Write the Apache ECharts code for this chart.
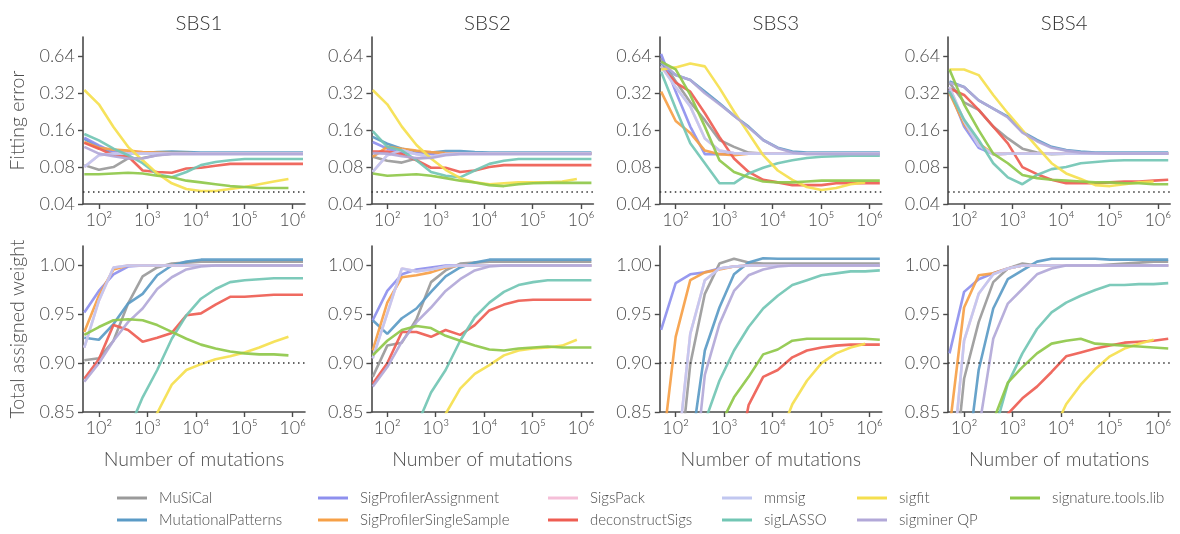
<!DOCTYPE html>
<html>
<head>
<meta charset="utf-8">
<script src="https://cdn.jsdelivr.net/npm/echarts@6/dist/echarts.min.js"></script>
<style>
  html, body { margin: 0; padding: 0; background: #fff; }
  #chart { width: 1180px; height: 534px; }
</style>
</head>
<body>
<div id="chart"></div>
<script>
// number of mutations (x), same grid for every panel
const xs = [50, 100, 200, 400, 800, 1600, 3200, 6400, 12800, 25600, 51200, 102400, 204800, 409600, 819200, 1638400];

const panels = ['SBS1', 'SBS2', 'SBS3', 'SBS4'];
const methods = ['MuSiCal', 'MutationalPatterns', 'SigProfilerAssignment', 'SigProfilerSingleSample',
  'SigsPack', 'deconstructSigs', 'mmsig', 'sigLASSO', 'sigfit', 'sigminer QP', 'signature.tools.lib'];
const colors = ['#9a9a9a', '#5b9bc6', '#8e90ee', '#f6a047', '#f5bfd8', '#ee5d52',
  '#c1c7f0', '#72c6b4', '#f5df4e', '#b2a8d8', '#8fc84a'];

const errTicks = [0.04, 0.08, 0.16, 0.32, 0.64];
const weightTicks = [0.85, 0.90, 0.95, 1.00];
const xTicks = [1e2, 1e3, 1e4, 1e5, 1e6];
const errRef = 0.05;
const weightRef = 0.90;

// fitting error, rows follow `methods`
const errSBS1 = [
  [0.083, 0.076, 0.080, 0.094, 0.095, 0.100, 0.103, 0.103, 0.103, 0.103, 0.103, 0.103, 0.103, 0.103, 0.103, 0.103],
  [0.136, 0.117, 0.104, 0.103, 0.104, 0.106, 0.107, 0.106, 0.105, 0.105, 0.105, 0.105, 0.105, 0.105, 0.105, 0.105],
  [0.139, 0.120, 0.106, 0.104, 0.103, 0.103, 0.103, 0.103, 0.103, 0.103, 0.103, 0.103, 0.103, 0.103, 0.103, 0.103],
  [0.128, 0.115, 0.111, 0.109, 0.106, 0.105, 0.104, 0.104, 0.103, 0.103, 0.103, 0.103, 0.103, 0.103, 0.103, 0.103],
  [0.080, 0.100, 0.103, 0.103, 0.103, 0.103, 0.103, 0.103, 0.103, 0.103, 0.103, 0.103, 0.103, 0.103, 0.103, 0.103],
  [0.126, 0.113, 0.100, 0.098, 0.075, 0.073, 0.072, 0.078, 0.079, 0.082, 0.085, 0.085, 0.085, 0.085, 0.085, 0.085],
  [0.080, 0.100, 0.103, 0.103, 0.103, 0.103, 0.103, 0.103, 0.103, 0.103, 0.103, 0.103, 0.103, 0.103, 0.103, 0.103],
  [0.149, 0.132, 0.113, 0.100, 0.086, 0.070, 0.066, 0.073, 0.083, 0.088, 0.091, 0.093, 0.093, 0.093, 0.093, 0.093],
  [0.340, 0.260, 0.170, 0.117, 0.091, 0.071, 0.059, 0.053, 0.051, 0.051, 0.053, 0.055, 0.058, 0.061, 0.064, null],
  [0.117, 0.103, 0.098, 0.094, 0.094, 0.100, 0.102, 0.102, 0.102, 0.102, 0.102, 0.102, 0.102, 0.102, 0.102, 0.102],
  [0.070, 0.070, 0.071, 0.072, 0.071, 0.068, 0.066, 0.062, 0.060, 0.058, 0.056, 0.055, 0.054, 0.054, 0.054, null]
];
const errSBS2 = [
  [0.097, 0.090, 0.087, 0.094, 0.096, 0.103, 0.103, 0.103, 0.103, 0.103, 0.103, 0.103, 0.103, 0.103, 0.103, 0.103],
  [0.141, 0.124, 0.113, 0.107, 0.105, 0.108, 0.108, 0.106, 0.105, 0.105, 0.105, 0.105, 0.105, 0.105, 0.105, 0.105],
  [0.128, 0.113, 0.105, 0.104, 0.103, 0.103, 0.103, 0.103, 0.103, 0.103, 0.103, 0.103, 0.103, 0.103, 0.103, 0.103],
  [0.097, 0.117, 0.113, 0.109, 0.106, 0.104, 0.103, 0.103, 0.103, 0.103, 0.103, 0.103, 0.103, 0.103, 0.103, 0.103],
  [0.073, 0.100, 0.110, 0.102, 0.097, 0.102, 0.103, 0.103, 0.103, 0.103, 0.103, 0.103, 0.103, 0.103, 0.103, 0.103],
  [0.107, 0.107, 0.102, 0.091, 0.079, 0.079, 0.073, 0.075, 0.080, 0.083, 0.083, 0.083, 0.083, 0.083, 0.083, 0.083],
  [0.073, 0.100, 0.110, 0.102, 0.097, 0.102, 0.103, 0.103, 0.103, 0.103, 0.103, 0.103, 0.103, 0.103, 0.103, 0.103],
  [0.157, 0.117, 0.109, 0.091, 0.073, 0.068, 0.066, 0.075, 0.085, 0.090, 0.093, 0.093, 0.093, 0.093, 0.093, 0.093],
  [0.340, 0.260, 0.171, 0.121, 0.094, 0.076, 0.065, 0.060, 0.058, 0.059, 0.060, 0.060, 0.060, 0.061, 0.064, null],
  [0.104, 0.103, 0.098, 0.095, 0.095, 0.100, 0.102, 0.102, 0.102, 0.102, 0.102, 0.102, 0.102, 0.102, 0.102, 0.102],
  [0.071, 0.068, 0.069, 0.070, 0.068, 0.065, 0.062, 0.060, 0.057, 0.056, 0.058, 0.059, 0.0595, 0.0595, 0.0595, 0.0595]
];
const errSBS3 = [
  [0.620, 0.400, 0.270, 0.193, 0.133, 0.117, 0.105, 0.103, 0.103, 0.103, 0.103, 0.103, 0.103, 0.103, 0.103, 0.103],
  [0.560, 0.450, 0.410, 0.330, 0.265, 0.210, 0.171, 0.133, 0.115, 0.107, 0.105, 0.105, 0.105, 0.105, 0.105, 0.105],
  [0.670, 0.330, 0.171, 0.102, 0.102, 0.103, 0.103, 0.103, 0.103, 0.103, 0.103, 0.103, 0.103, 0.103, 0.103, 0.103],
  [0.330, 0.190, 0.152, 0.109, 0.102, 0.100, 0.103, 0.103, 0.103, 0.103, 0.103, 0.103, 0.103, 0.103, 0.103, 0.103],
  [0.530, 0.360, 0.250, 0.137, 0.109, 0.104, 0.103, 0.103, 0.103, 0.103, 0.103, 0.103, 0.103, 0.103, 0.103, 0.103],
  [0.530, 0.390, 0.330, 0.220, 0.141, 0.094, 0.073, 0.063, 0.060, 0.057, 0.057, 0.057, 0.059, 0.059, 0.059, 0.059],
  [0.530, 0.360, 0.250, 0.137, 0.109, 0.104, 0.103, 0.103, 0.103, 0.103, 0.103, 0.103, 0.103, 0.103, 0.103, 0.103],
  [0.480, 0.240, 0.125, 0.086, 0.059, 0.059, 0.071, 0.079, 0.086, 0.091, 0.095, 0.097, 0.098, 0.099, 0.099, 0.099],
  [0.500, 0.520, 0.560, 0.530, 0.354, 0.227, 0.151, 0.100, 0.075, 0.063, 0.055, 0.052, 0.054, 0.058, 0.060, null],
  [0.580, 0.450, 0.410, 0.320, 0.260, 0.210, 0.168, 0.133, 0.114, 0.105, 0.102, 0.102, 0.102, 0.102, 0.102, 0.102],
  [0.580, 0.500, 0.310, 0.171, 0.091, 0.073, 0.066, 0.061, 0.060, 0.060, 0.061, 0.062, 0.062, 0.062, 0.062, 0.062]
];
const errSBS4 = [
  [0.390, 0.270, 0.234, 0.171, 0.137, 0.113, 0.105, 0.102, 0.103, 0.103, 0.103, 0.103, 0.103, 0.103, 0.103, 0.103],
  [0.400, 0.360, 0.280, 0.240, 0.206, 0.155, 0.133, 0.117, 0.110, 0.107, 0.105, 0.105, 0.105, 0.105, 0.105, 0.105],
  [0.340, 0.171, 0.115, 0.102, 0.103, 0.103, 0.103, 0.103, 0.103, 0.103, 0.103, 0.103, 0.103, 0.103, 0.103, 0.103],
  [0.320, 0.180, 0.125, 0.102, 0.103, 0.103, 0.103, 0.103, 0.103, 0.103, 0.103, 0.103, 0.103, 0.103, 0.103, 0.103],
  [0.360, 0.190, 0.120, 0.102, 0.103, 0.103, 0.103, 0.103, 0.103, 0.103, 0.103, 0.103, 0.103, 0.103, 0.103, 0.103],
  [0.350, 0.310, 0.234, 0.171, 0.125, 0.080, 0.070, 0.063, 0.059, 0.059, 0.059, 0.060, 0.061, 0.061, 0.062, 0.063],
  [0.360, 0.190, 0.120, 0.102, 0.103, 0.103, 0.103, 0.103, 0.103, 0.103, 0.103, 0.103, 0.103, 0.103, 0.103, 0.103],
  [0.330, 0.195, 0.133, 0.086, 0.066, 0.058, 0.069, 0.077, 0.080, 0.086, 0.088, 0.090, 0.091, 0.091, 0.091, 0.091],
  [0.500, 0.500, 0.450, 0.310, 0.220, 0.160, 0.117, 0.086, 0.071, 0.064, 0.057, 0.056, 0.058, 0.060, 0.061, null],
  [0.390, 0.360, 0.280, 0.240, 0.203, 0.153, 0.130, 0.115, 0.109, 0.105, 0.104, 0.103, 0.103, 0.103, 0.103, 0.103],
  [0.500, 0.260, 0.160, 0.103, 0.086, 0.069, 0.065, 0.063, 0.062, 0.061, 0.060, 0.060, 0.059, 0.059, 0.058, 0.058]
];

// total assigned weight, rows follow `methods`
const wSBS1 = [
  [0.903, 0.905, 0.923, 0.961, 0.989, 0.998, 1.002, 1.003, 1.004, 1.004, 1.004, 1.004, 1.004, 1.004, 1.004, 1.004],
  [0.926, 0.924, 0.940, 0.961, 0.971, 0.990, 1.000, 1.004, 1.006, 1.006, 1.006, 1.006, 1.006, 1.006, 1.006, 1.006],
  [0.952, 0.974, 0.991, 0.999, 1.000, 1.000, 1.000, 1.000, 1.000, 1.000, 1.000, 1.000, 1.000, 1.000, 1.000, 1.000],
  [0.932, 0.969, 0.996, 1.000, 1.000, 1.000, 1.000, 1.000, 1.000, 1.000, 1.000, 1.000, 1.000, 1.000, 1.000, 1.000],
  [0.916, 0.964, 0.998, 1.000, 1.000, 1.000, 1.000, 1.000, 1.000, 1.000, 1.000, 1.000, 1.000, 1.000, 1.000, 1.000],
  [0.884, 0.904, 0.939, 0.934, 0.922, 0.926, 0.931, 0.949, 0.951, 0.960, 0.968, 0.968, 0.969, 0.970, 0.970, 0.970],
  [0.916, 0.964, 0.998, 1.000, 1.000, 1.000, 1.000, 1.000, 1.000, 1.000, 1.000, 1.000, 1.000, 1.000, 1.000, 1.000],
  [0.600, 0.700, 0.780, 0.830, 0.865, 0.893, 0.925, 0.949, 0.966, 0.976, 0.983, 0.985, 0.986, 0.987, 0.987, 0.987],
  [0.550, 0.650, 0.720, 0.780, 0.820, 0.849, 0.878, 0.893, 0.899, 0.904, 0.907, 0.911, 0.916, 0.922, 0.927, null],
  [0.881, 0.900, 0.923, 0.942, 0.956, 0.976, 0.988, 0.996, 0.999, 1.000, 1.000, 1.000, 1.000, 1.000, 1.000, 1.000],
  [0.929, 0.937, 0.944, 0.945, 0.944, 0.939, 0.932, 0.925, 0.919, 0.915, 0.912, 0.910, 0.909, 0.909, 0.908, null]
];
const wSBS2 = [
  [0.886, 0.918, 0.921, 0.945, 0.983, 0.995, 1.002, 1.003, 1.004, 1.004, 1.004, 1.004, 1.004, 1.004, 1.004, 1.004],
  [0.944, 0.930, 0.946, 0.956, 0.973, 0.989, 0.998, 1.003, 1.006, 1.006, 1.006, 1.006, 1.006, 1.006, 1.006, 1.006],
  [0.944, 0.974, 0.991, 0.996, 0.998, 1.000, 1.000, 1.000, 1.000, 1.000, 1.000, 1.000, 1.000, 1.000, 1.000, 1.000],
  [0.913, 0.962, 0.988, 0.990, 0.993, 0.998, 1.000, 1.000, 1.000, 1.000, 1.000, 1.000, 1.000, 1.000, 1.000, 1.000],
  [0.905, 0.951, 0.997, 0.994, 0.996, 0.999, 1.000, 1.000, 1.000, 1.000, 1.000, 1.000, 1.000, 1.000, 1.000, 1.000],
  [0.879, 0.900, 0.932, 0.932, 0.927, 0.934, 0.929, 0.939, 0.954, 0.960, 0.964, 0.965, 0.965, 0.965, 0.965, 0.965],
  [0.905, 0.951, 0.997, 0.994, 0.996, 0.999, 1.000, 1.000, 1.000, 1.000, 1.000, 1.000, 1.000, 1.000, 1.000, 1.000],
  [0.620, 0.720, 0.790, 0.835, 0.870, 0.893, 0.923, 0.947, 0.962, 0.973, 0.980, 0.983, 0.985, 0.985, 0.985, 0.985],
  [0.550, 0.650, 0.720, 0.780, 0.820, 0.848, 0.874, 0.889, 0.898, 0.908, 0.913, 0.915, 0.916, 0.918, 0.924, null],
  [0.876, 0.896, 0.922, 0.942, 0.957, 0.974, 0.986, 0.995, 0.999, 1.000, 1.000, 1.000, 1.000, 1.000, 1.000, 1.000],
  [0.908, 0.923, 0.934, 0.938, 0.936, 0.928, 0.923, 0.918, 0.914, 0.913, 0.915, 0.916, 0.917, 0.916, 0.916, 0.916]
];
const wSBS3 = [
  [0.650, 0.755, 0.899, 0.971, 1.002, 1.007, 1.003, 1.002, 1.002, 1.002, 1.002, 1.002, 1.002, 1.002, 1.002, 1.002],
  [0.600, 0.720, 0.807, 0.913, 0.957, 0.991, 1.003, 1.0075, 1.007, 1.007, 1.007, 1.007, 1.007, 1.007, 1.007, 1.007],
  [0.934, 0.982, 0.991, 0.993, 0.997, 0.999, 1.000, 1.000, 1.000, 1.000, 1.000, 1.000, 1.000, 1.000, 1.000, 1.000],
  [0.800, 0.927, 0.985, 0.993, 0.996, 0.999, 1.000, 1.000, 1.000, 1.000, 1.000, 1.000, 1.000, 1.000, 1.000, 1.000],
  [0.700, 0.789, 0.930, 0.985, 0.997, 0.999, 1.000, 1.000, 1.000, 1.000, 1.000, 1.000, 1.000, 1.000, 1.000, 1.000],
  [0.500, 0.600, 0.680, 0.730, 0.760, 0.780, 0.857, 0.886, 0.893, 0.906, 0.913, 0.916, 0.918, 0.919, 0.919, 0.919],
  [0.700, 0.789, 0.930, 0.985, 0.997, 0.999, 1.000, 1.000, 1.000, 1.000, 1.000, 1.000, 1.000, 1.000, 1.000, 1.000],
  [0.550, 0.650, 0.760, 0.840, 0.882, 0.913, 0.937, 0.956, 0.969, 0.980, 0.985, 0.990, 0.992, 0.994, 0.994, 0.995],
  [0.400, 0.500, 0.600, 0.700, 0.750, 0.780, 0.800, 0.810, 0.820, 0.858, 0.882, 0.900, 0.910, 0.916, 0.920, null],
  [0.600, 0.700, 0.747, 0.888, 0.940, 0.974, 0.990, 0.996, 0.999, 1.000, 1.000, 1.000, 1.000, 1.000, 1.000, 1.000],
  [0.500, 0.600, 0.700, 0.780, 0.835, 0.865, 0.886, 0.909, 0.914, 0.923, 0.925, 0.925, 0.925, 0.925, 0.925, 0.924]
];
const wSBS4 = [
  [0.738, 0.884, 0.942, 0.983, 0.997, 1.002, 1.000, 1.000, 1.000, 1.000, 1.000, 1.001, 1.002, 1.003, 1.004, 1.004],
  [0.600, 0.775, 0.893, 0.956, 0.986, 0.995, 1.004, 1.007, 1.007, 1.007, 1.007, 1.006, 1.006, 1.006, 1.006, 1.006],
  [0.910, 0.973, 0.986, 0.992, 0.997, 1.000, 1.000, 1.000, 1.000, 1.000, 1.000, 1.000, 1.000, 1.000, 1.000, 1.000],
  [0.833, 0.957, 0.990, 0.992, 0.997, 1.000, 1.000, 1.000, 1.000, 1.000, 1.000, 1.000, 1.000, 1.000, 1.000, 1.000],
  [0.766, 0.923, 0.971, 0.991, 0.997, 1.000, 1.000, 1.000, 1.000, 1.000, 1.000, 1.000, 1.000, 1.000, 1.000, 1.000],
  [0.500, 0.600, 0.700, 0.780, 0.848, 0.864, 0.876, 0.891, 0.907, 0.911, 0.915, 0.918, 0.921, 0.922, 0.923, 0.925],
  [0.766, 0.923, 0.971, 0.991, 0.997, 1.000, 1.000, 1.000, 1.000, 1.000, 1.000, 1.000, 1.000, 1.000, 1.000, 1.000],
  [0.550, 0.650, 0.750, 0.826, 0.879, 0.910, 0.935, 0.952, 0.962, 0.969, 0.975, 0.980, 0.980, 0.981, 0.981, 0.982],
  [0.400, 0.500, 0.600, 0.700, 0.750, 0.780, 0.800, 0.826, 0.858, 0.878, 0.894, 0.907, 0.915, 0.920, 0.924, null],
  [0.600, 0.700, 0.831, 0.925, 0.961, 0.976, 0.991, 0.997, 1.000, 1.000, 1.000, 1.000, 1.000, 1.000, 1.000, 1.000],
  [0.550, 0.650, 0.750, 0.841, 0.880, 0.896, 0.910, 0.920, 0.923, 0.925, 0.920, 0.919, 0.918, 0.917, 0.916, 0.915]
];

const errAll = [errSBS1, errSBS2, errSBS3, errSBS4];
const wAll = [wSBS1, wSBS2, wSBS3, wSBS4];

// legend columns (indexes into methods) and where each column starts
const legendCols = [[0, 1], [2, 3], [4, 5], [6, 7], [8, 9], [10]];
const legendLeft = [117, 318, 548, 722, 857, 1010];

const FONT = 'Lato';
const TXT = '#4d4d4d';
const AX = '#4a4a4a';
const sup = { 2: '\u00b2', 3: '\u00b3', 4: '\u2074', 5: '\u2075', 6: '\u2076' };
const lg10 = Math.log10, lg2 = Math.log2;

const chart = echarts.init(document.getElementById('chart'));

const grids = [], xAxes = [], yAxes = [], series = [], titles = [];
const labelStyle = { fontSize: 18, color: TXT, fontFamily: FONT, fontWeight: 300 };
const nameStyle = { fontSize: 19.5, color: TXT, fontFamily: FONT, fontWeight: 300 };

function mkX(gi, withName) {
  return {
    gridIndex: gi, type: 'value', min: lg10(47), max: lg10(1.8e6),
    axisLine: { lineStyle: { color: AX, width: 1.6 } },
    axisTick: { customValues: xTicks.map(lg10), length: 5, lineStyle: { color: AX, width: 1.4 } },
    axisLabel: Object.assign({ customValues: xTicks.map(lg10), margin: 7,
      formatter: v => '10' + sup[Math.round(v)] }, labelStyle),
    splitLine: { show: false },
    name: withName ? 'Number of mutations' : '', nameLocation: 'middle', nameGap: 38,
    nameTextStyle: nameStyle
  };
}

panels.forEach((pname, p) => {
  const left = 83 + p * 288.4;
  titles.push({ text: pname, left: left + 111, top: 8, textAlign: 'center',
    textStyle: { fontSize: 20.5, fontWeight: 300, color: '#333', fontFamily: FONT } });

  // top: fitting error (log2 scale)
  const gTop = grids.length;
  grids.push({ left: left, top: 37, width: 222, height: 167 });
  xAxes.push(mkX(gTop, false));
  yAxes.push({
    gridIndex: gTop, type: 'value', min: lg2(0.04), max: lg2(0.92),
    axisLine: { show: true, lineStyle: { color: AX, width: 1.6 } },
    axisTick: { show: true, customValues: errTicks.map(lg2), length: 5, lineStyle: { color: AX, width: 1.4 } },
    axisLabel: Object.assign({ customValues: errTicks.map(lg2), margin: 8,
      formatter: v => Math.pow(2, v).toFixed(2) }, labelStyle),
    splitLine: { show: false },
    name: p === 0 ? 'Fitting error' : '', nameLocation: 'middle', nameGap: 55,
    nameTextStyle: nameStyle
  });

  // bottom: total assigned weight
  const gBot = grids.length;
  grids.push({ left: left, top: 246, width: 222, height: 166 });
  xAxes.push(mkX(gBot, true));
  yAxes.push({
    gridIndex: gBot, type: 'value', min: 0.85, max: 1.02,
    axisLine: { show: true, lineStyle: { color: AX, width: 1.6 } },
    axisTick: { show: true, customValues: weightTicks, length: 5, lineStyle: { color: AX, width: 1.4 } },
    axisLabel: Object.assign({ customValues: weightTicks, margin: 8,
      formatter: v => v.toFixed(2) }, labelStyle),
    splitLine: { show: false },
    name: p === 0 ? 'Total assigned weight' : '', nameLocation: 'middle', nameGap: 55,
    nameTextStyle: nameStyle
  });

  [[gTop, errAll[p], lg2, errRef], [gBot, wAll[p], v => v, weightRef]].forEach(([gi, rows, tf, ref]) => {
    // dotted reference line
    series.push({
      type: 'line', xAxisIndex: gi, yAxisIndex: gi, data: [], silent: true,
      markLine: { silent: true, symbol: 'none', label: { show: false }, animation: false,
        lineStyle: { type: [1.5, 3.5], color: '#333', width: 1.5 },
        data: [{ yAxis: tf(ref) }] }
    });
    rows.forEach((row, m) => {
      const data = [];
      row.forEach((v, k) => { if (v != null) data.push([lg10(xs[k]), tf(v)]); });
      series.push({
        type: 'line', name: methods[m], xAxisIndex: gi, yAxisIndex: gi, data: data,
        showSymbol: false, symbol: 'none', silent: true,
        lineStyle: { color: colors[m], width: 2.6, opacity: 0.92 },
        itemStyle: { color: colors[m] }
      });
    });
  });
});

const legends = legendCols.map((col, i) => ({
  data: col.map(m => methods[m]), orient: 'vertical', left: legendLeft[i], top: 490,
  padding: 0, icon: 'rect', itemWidth: 30, itemHeight: 3, itemGap: 6, selectedMode: false,
  textStyle: { fontSize: 15, color: TXT, fontFamily: FONT, fontWeight: 300, lineHeight: 16, padding: [0, 0, 0, 7] }
}));

chart.setOption({
  animation: false,
  backgroundColor: '#fff',
  title: titles,
  legend: legends,
  grid: grids,
  xAxis: xAxes,
  yAxis: yAxes,
  series: series
});
</script>
</body>
</html>
